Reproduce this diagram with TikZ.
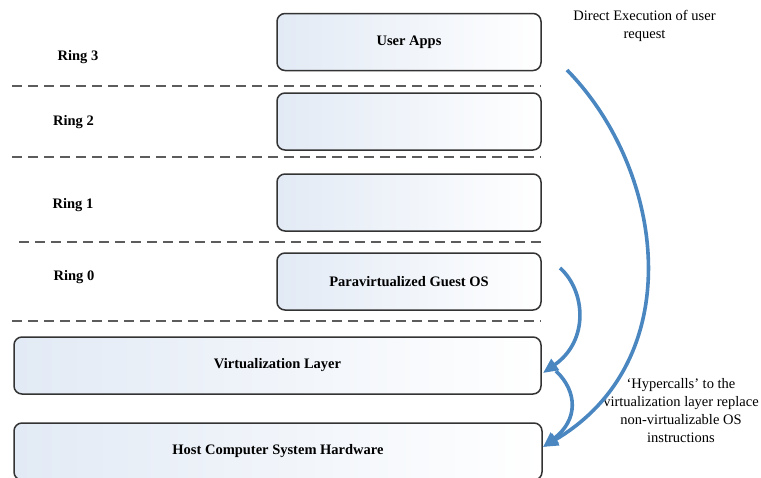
\documentclass[tikz,border=0pt]{standalone}
\usepackage{fontspec}
\setmainfont{Liberation Serif}
\usetikzlibrary{arrows.meta}
\definecolor{boxedge}{HTML}{333333}
\definecolor{boxtint}{HTML}{E2EAF5}
\definecolor{ringline}{HTML}{5C5C5C}
\definecolor{callblue}{HTML}{4A87C1}
\tikzset{
  layerbox/.style={draw=boxedge, line width=1.5pt, rounded corners=8pt,
    left color=boxtint, middle color=boxtint!35!white, right color=white,
    inner sep=0pt, outer sep=0pt,
    font=\fontsize{14.5}{17}\selectfont\bfseries},
  ringbox/.style={layerbox, minimum width=264, minimum height=57},
  basebox/.style={layerbox, minimum height=57},
  ringlabel/.style={font=\fontsize{14.5}{17}\selectfont\bfseries, inner sep=0pt},
  ringsep/.style={draw=ringline, line width=1.6pt, dash pattern=on 10pt off 6pt},
  note/.style={font=\fontsize{14.5}{18.3}\selectfont, align=center, inner sep=0pt},
  callarrow/.style={draw=callblue, line width=3.6pt,
    -{Triangle[length=15pt,width=13pt]}}
}
\begin{document}
\begin{tikzpicture}[x=1pt, y=-1pt]
\useasboundingbox (0,0) rectangle (761,477);
\clip (0,0) rectangle (761,477);

% protection rings on the left
\node[ringlabel] (r3) at (78,57)    {Ring 3};
\node[ringlabel] (r2) at (73.5,122) {Ring 2};
\node[ringlabel] (r1) at (73,205)   {Ring 1};
\node[ringlabel] (r0) at (74,277)   {Ring 0};

% dashed ring boundaries
\coordinate (s1a) at (12,86);    \coordinate (s1b) at (541,86);
\coordinate (s2a) at (12,157);   \coordinate (s2b) at (541,157);
\coordinate (s3a) at (19,242);   \coordinate (s3b) at (547,242);
\coordinate (s4a) at (12,321);   \coordinate (s4b) at (541,321);
\draw[ringsep] (s1a) -- (s1b);
\draw[ringsep] (s2a) -- (s2b);
\draw[ringsep] (s3a) -- (s3b);
\draw[ringsep] (s4a) -- (s4b);

% software living in each ring
\node[ringbox] (apps)  at (409,42)    {User Apps};
\node[ringbox] (ring2) at (409,121.5) {};
\node[ringbox] (ring1) at (409,202.5) {};
\node[ringbox] (guest) at (409,281.5) {Paravirtualized Guest OS};

% layers below the rings
\node[basebox, minimum width=527] (virt) at (277.5,365.5) {Virtualization Layer};
\node[basebox, minimum width=528] (host) at (278,451.5)  {Host Computer System Hardware};

% notes
\node[note] (direct) at (644.5,26) {Direct Execution of user\\request};
\node[note] (hyper)  at (681,410.5) {`Hypercalls' to the\\virtualization layer replace\\non-virtualizable OS\\instructions};

% call paths
\coordinate (appsout)  at (567,70);
\coordinate (guestout) at (560,268);
\coordinate (virtin)   at (543,373);
\coordinate (virtout)  at (556,371);
\coordinate (hostin)   at (543,447);

\draw[callarrow] (appsout) .. controls (665,170) and (690,360) .. (hostin);
\draw[callarrow] (guestout) .. controls (585,290) and (590,340) .. (virtin);
\draw[callarrow] (virtout) .. controls (578,392) and (578,420) .. (hostin);
\end{tikzpicture}
\end{document}
